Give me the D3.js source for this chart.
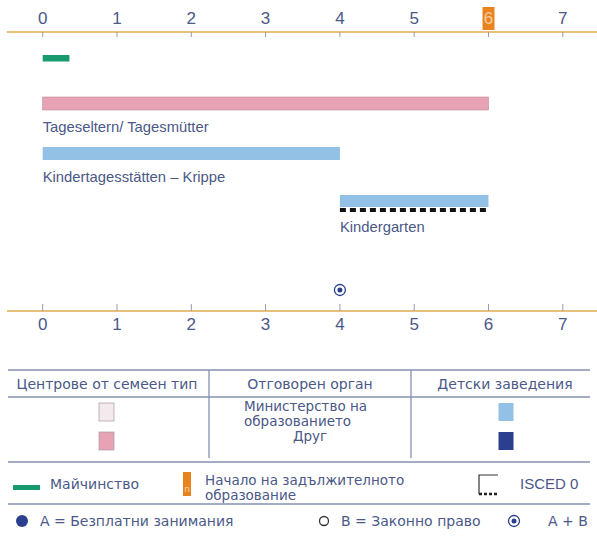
<!DOCTYPE html>
<html>
<head>
<meta charset="utf-8">
<script src="https://cdn.jsdelivr.net/npm/d3@7"></script>
<style>
  body { margin: 0; background: #fff; }
  svg { display: block; }
</style>
</head>
<body>
<div id="chart"></div>
<script>
// age axis
let ages = [0, 1, 2, 3, 4, 5, 6, 7];
let compulsoryAge = 6;

// provision bars: [start, end]
let maternity = [0, 0.36];
let programNames = ["Tageseltern/ Tagesmütter", "Kindertagesstätten – Krippe", "Kindergarten"];
let programStart = [0, 0, 4];
let programEnd = [6, 4, 6];
let programType = ["family", "centre", "centre"];
let programIsced = [false, false, true];
let freeAndLegal = [4]; // A + B marker positions

// legend texts
let tableHeaders = ["Центрове от семеен тип", "Отговорен орган", "Детски заведения"];
let authorities = ["Министерство на образованието", "Друг"];
let legendLabels = ["Майчинство", "Начало на задължителното образование", "ISCED 0"];
let markerLabels = ["A = Безплатни занимания", "B = Законно право", "A + B"];

const width = 597, height = 537;
const textColor = "#4b5888";
const axisColor = "#e8c07a";
const lineColor = "#8491b0";
const colors = {
    family: "#e8a2b5", familyLight: "#f4e9ec",
    centre: "#93c1e5", centreDark: "#2b3f8f",
    maternity: "#179a6e", compulsory: "#e8831f"
};

const svg = d3.select("#chart").append("svg")
    .attr("width", width)
    .attr("height", height);

const x = d3.scaleLinear().domain([0, 7]).range([42.7, 562.8]);
const narrow = "'Liberation Sans Narrow', 'Arial Narrow', 'Liberation Sans', sans-serif";
const sans = "'DejaVu Sans', Verdana, sans-serif";

const topY = 32, botY = 311;
function drawAxis(y, ticksDown) {
    const g = svg.append("g");
    g.append("line")
        .attr("x1", 7).attr("x2", 597)
        .attr("y1", y).attr("y2", y)
        .attr("stroke", axisColor).attr("stroke-width", 2);
    g.selectAll("line.tick")
        .data(ages)
        .join("line")
        .attr("class", "tick")
        .attr("x1", d => x(d)).attr("x2", d => x(d))
        .attr("y1", ticksDown ? y : y - 7)
        .attr("y2", ticksDown ? y + 5 : y)
        .attr("stroke", "#9a9aa8").attr("stroke-width", 1);
    return g;
}

// top axis
const topAxis = drawAxis(topY, true);
topAxis.selectAll("rect.comp")
    .data([compulsoryAge])
    .join("rect")
    .attr("x", d => x(d) - 6).attr("y", 7)
    .attr("width", 12).attr("height", 23)
    .attr("fill", colors.compulsory);
topAxis.selectAll("text")
    .data(ages)
    .join("text")
    .attr("x", d => x(d))
    .attr("y", 24)
    .attr("text-anchor", "middle")
    .attr("font-family", narrow)
    .attr("font-size", 17)
    .attr("fill", d => d === compulsoryAge ? "#f6c9a0" : textColor)
    .text(d => d);

// bottom axis
const botAxis = drawAxis(botY, false);
botAxis.selectAll("text")
    .data(ages)
    .join("text")
    .attr("x", d => x(d))
    .attr("y", 330)
    .attr("text-anchor", "middle")
    .attr("font-family", narrow)
    .attr("font-size", 17)
    .attr("fill", textColor)
    .text(d => d);

// maternity
svg.append("rect")
    .attr("x", x(maternity[0])).attr("y", 55)
    .attr("width", x(maternity[1]) - x(maternity[0])).attr("height", 6.5)
    .attr("fill", colors.maternity);

// programmes
const rowY = [97, 147, 195];
const bars = svg.append("g");
programNames.forEach((name, i) => {
    const x0 = x(programStart[i]), x1 = x(programEnd[i]);
    bars.append("rect")
        .attr("x", x0).attr("y", rowY[i])
        .attr("width", x1 - x0).attr("height", i === 2 ? 12 : 13)
        .attr("fill", programType[i] === "family" ? colors.family : colors.centre)
        .attr("stroke", programType[i] === "family" ? "#b98c99" : "none")
        .attr("stroke-width", 0.6);
    if (programIsced[i]) {
        bars.append("line")
            .attr("x1", x0).attr("x2", x1)
            .attr("y1", rowY[i] + 15).attr("y2", rowY[i] + 15)
            .attr("stroke", "#111").attr("stroke-width", 4)
            .attr("stroke-dasharray", "6,4");
    }
    bars.append("text")
        .attr("x", x0)
        .attr("y", rowY[i] + (i === 2 ? 37 : 35))
        .attr("font-family", narrow)
        .attr("font-size", 14.8)
        .attr("fill", textColor)
        .text(name);
});

// A + B markers
function abMarker(g, cx, cy) {
    g.append("circle").attr("cx", cx).attr("cy", cy).attr("r", 5.5)
        .attr("fill", "#fff").attr("stroke", colors.centreDark).attr("stroke-width", 1.3);
    g.append("circle").attr("cx", cx).attr("cy", cy).attr("r", 2.5)
        .attr("fill", colors.centreDark);
}
freeAndLegal.forEach(d => abMarker(svg, x(d), 290));

// legend table
const tbl = svg.append("g").attr("font-family", sans).attr("font-size", 14).attr("fill", textColor);
const colX = [8, 209, 411, 590];
const hLines = [370, 397, 462, 504];
hLines.forEach(y => {
    tbl.append("line").attr("x1", colX[0]).attr("x2", colX[3])
        .attr("y1", y).attr("y2", y)
        .attr("stroke", lineColor).attr("stroke-width", 1.5);
});
[colX[1], colX[2]].forEach(cx => {
    tbl.append("line").attr("x1", cx).attr("x2", cx)
        .attr("y1", 370).attr("y2", 458)
        .attr("stroke", lineColor).attr("stroke-width", 1.3);
});
const headerX = [107, 310, 505];
tableHeaders.forEach((h, i) => {
    tbl.append("text")
        .attr("x", headerX[i])
        .attr("y", 389)
        .attr("text-anchor", "middle")
        .text(h);
});
const c1 = 106.5, c3 = 506;
[[colors.familyLight, 403], [colors.family, 432]].forEach(([f, y]) => {
    tbl.append("rect").attr("x", c1 - 7.5).attr("y", y).attr("width", 15).attr("height", 18)
        .attr("fill", f).attr("stroke", "#a99aa0").attr("stroke-width", 0.7);
});
[[colors.centre, 403], [colors.centreDark, 432]].forEach(([f, y]) => {
    tbl.append("rect").attr("x", c3 - 7.5).attr("y", y).attr("width", 15).attr("height", 18)
        .attr("fill", f);
});
const authWords = authorities[0].split(" ");
const auth = tbl.append("g").attr("font-size", 13.5);
auth.append("text").attr("x", 244).attr("y", 411)
    .text(authWords.slice(0, 2).join(" "));
auth.append("text").attr("x", 244).attr("y", 425.5)
    .text(authWords.slice(2).join(" "));
auth.append("text").attr("x", 293).attr("y", 440.5)
    .text(authorities[1]);

// legend row 1
tbl.append("rect").attr("x", 13).attr("y", 485).attr("width", 27).attr("height", 5)
    .attr("fill", colors.maternity);
tbl.append("text").attr("x", 50).attr("y", 489).text(legendLabels[0]);
tbl.append("rect").attr("x", 183).attr("y", 472).attr("width", 8).attr("height", 24)
    .attr("fill", colors.compulsory);
tbl.append("text").attr("x", 187).attr("y", 492).attr("text-anchor", "middle")
    .attr("font-size", 9).attr("fill", "#f6d6b0").text("n");
const compWords = legendLabels[1].split(" ");
const comp = tbl.append("g").attr("font-size", 13.5);
comp.append("text").attr("x", 205).attr("y", 485).text(compWords.slice(0, 3).join(" "));
comp.append("text").attr("x", 205).attr("y", 499.5).text(compWords.slice(3).join(" "));
tbl.append("path").attr("d", "M479,494 V475 H498")
    .attr("fill", "none").attr("stroke", "#333").attr("stroke-width", 1.2);
tbl.append("line").attr("x1", 479).attr("x2", 499).attr("y1", 494).attr("y2", 494)
    .attr("stroke", "#222").attr("stroke-width", 2.5).attr("stroke-dasharray", "3,2");
tbl.append("text").attr("x", 520).attr("y", 489)
    .attr("font-family", narrow).attr("font-size", 15).text(legendLabels[2]);

// legend row 2
tbl.append("circle").attr("cx", 22).attr("cy", 521).attr("r", 6).attr("fill", colors.centreDark);
tbl.append("text").attr("x", 40).attr("y", 526).text(markerLabels[0]);
tbl.append("circle").attr("cx", 324).attr("cy", 521).attr("r", 4.5)
    .attr("fill", "#fff").attr("stroke", "#333").attr("stroke-width", 1.3);
tbl.append("text").attr("x", 341).attr("y", 526).text(markerLabels[1]);
abMarker(tbl, 514, 521);
tbl.append("text").attr("x", 548).attr("y", 526).text(markerLabels[2]);
</script>
</body>
</html>
